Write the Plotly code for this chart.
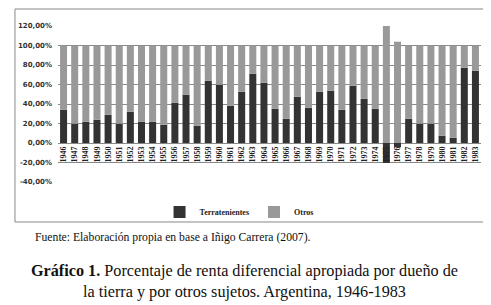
import plotly.graph_objects as go

years = [str(y) for y in range(1946, 1984)]
terratenientes = [34.2, 19.8, 21.9, 23.9, 29.0, 19.8, 32.1, 21.9, 21.9, 18.8,
                  41.4, 49.6, 17.8, 63.9, 59.8, 38.3, 52.6, 71.1, 61.9, 35.2,
                  24.9, 47.5, 36.2, 52.6, 53.7, 34.2, 58.8, 45.5, 35.2, -20.5,
                  -4.4, 24.9, 19.8, 19.8, 7.5, 5.5, 77.2, 74.2]
otros = [65.8, 80.2, 78.1, 76.1, 71.0, 80.2, 67.9, 78.1, 78.1, 81.2,
         58.6, 50.4, 82.2, 36.1, 40.2, 61.7, 47.4, 28.9, 38.1, 64.8,
         75.1, 52.5, 63.8, 47.4, 46.3, 65.8, 41.2, 54.5, 64.8, 121.3,
         103.9, 75.1, 80.2, 80.2, 92.5, 94.5, 22.8, 25.8]
y_ticks = [-40, -20, 0, 20, 40, 60, 80, 100, 120]
y_labels = ["-40,00%", "-20,00%", "0,00%", "20,00%", "40,00%", "60,00%",
            "80,00%", "100,00%", "120,00%"]

fig = go.Figure()
fig.add_trace(go.Bar(x=years, y=terratenientes, name="Terratenientes",
                     marker=dict(color="#333333", line=dict(width=0))))
fig.add_trace(go.Bar(x=years, y=otros, name="Otros",
                     marker=dict(color="#999999", line=dict(width=0))))

# page body has an 8px margin, so the figure is 8px smaller in each direction
fig.update_layout(
    width=483, height=297,
    margin=dict(l=50, r=10, t=18, b=123),
    paper_bgcolor="white", plot_bgcolor="white",
    barmode="relative", bargap=0.37,
    showlegend=True,
    legend=dict(orientation="h", x=0.428, xanchor="center", y=-0.192, yanchor="middle",
                font=dict(family="Liberation Serif", size=8, color="#222", weight="bold"),
                itemwidth=30, traceorder="normal", bgcolor="rgba(0,0,0,0)"),
    xaxis=dict(type="category", tickangle=-90, anchor="free", position=0.25,
               showgrid=False, zeroline=False, showline=False, ticks="",
               tickfont=dict(family="Liberation Serif", size=8, color="#222", weight="bold"),
               ticklabelstandoff=1),
    yaxis=dict(range=[-40, 120], tickvals=y_ticks, ticktext=y_labels,
               showgrid=True, gridcolor="#888888", gridwidth=1, zeroline=False,
               showline=False, ticks="",
               tickfont=dict(family="DejaVu Sans", size=7, color="#333", weight="bold"),
               ticklabelstandoff=5),
)

x0, x1, y0, y1 = -0.1017, 1.0189, -0.2564, 1.109
for (ax, ay, bx, by) in [(x0, y0, x1, y0), (x1, y0, x1, y1), (x1, y1, x0, y1), (x0, y1, x0, y0)]:
    fig.add_shape(type="line", xref="paper", yref="paper", x0=ax, y0=ay, x1=bx, y1=by,
                  line=dict(color="#888888", width=1), layer="above")

fig.add_annotation(xref="paper", yref="paper", x=-0.0591, y=-0.3526,
                   xanchor="left", yanchor="middle", showarrow=False,
                   text="Fuente: Elaboración propia en base a Iñigo Carrera (2007).",
                   font=dict(family="Liberation Serif", size=11.7, color="#111"))
fig.add_annotation(xref="paper", yref="paper", x=0.442, y=-0.637,
                   xanchor="center", yanchor="middle", showarrow=False, align="center",
                   text="<b>Gráfico 1.</b> Porcentaje de renta diferencial apropiada por dueño de<br>la tierra y por otros sujetos. Argentina, 1946-1983",
                   font=dict(family="Liberation Serif", size=16.2, color="#111"))

fig.write_html("out.html")
